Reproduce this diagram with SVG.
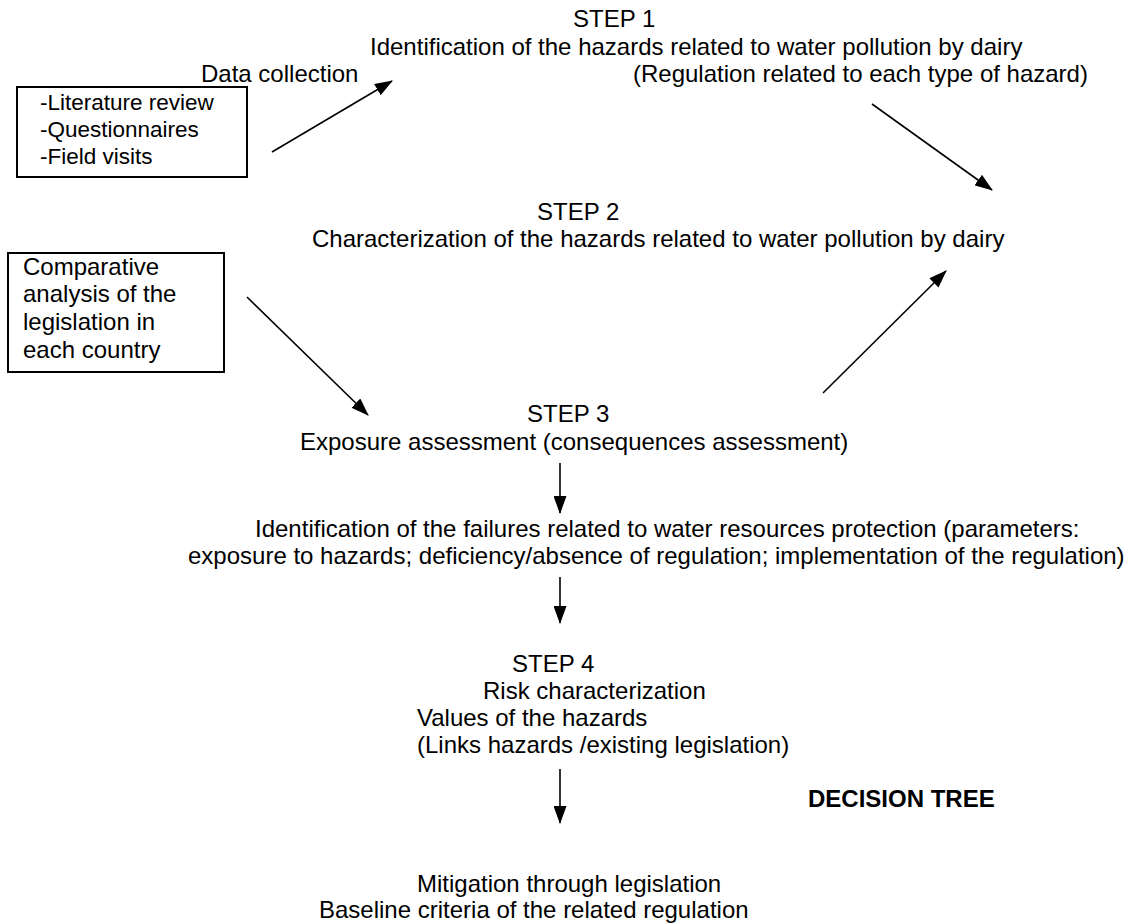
<svg xmlns="http://www.w3.org/2000/svg" width="1128" height="924" viewBox="0 0 1128 924">
<style>
text{font-family:"Liberation Sans",Arial,sans-serif;font-size:24px;fill:#000}
.b{font-weight:bold}
.s{font-size:22.5px}
.box{fill:#fff;stroke:#000;stroke-width:2}
.c{stroke:#000;stroke-width:1.6;fill:none;marker-end:url(#ah)}
</style>
<defs>
<marker id="ah" viewBox="0 0 18 13" refX="17" refY="6.5" markerWidth="18" markerHeight="13" markerUnits="userSpaceOnUse" orient="auto">
<path d="M0,0 L18,6.5 L0,13 z" fill="#000"/>
</marker>
</defs>
<rect width="1128" height="924" fill="#fff"/>
<g id="step1">
<text x="573" y="27">STEP 1</text>
<text x="370" y="55">Identification of the hazards related to water pollution by dairy</text>
<text x="633" y="82">(Regulation related to each type of hazard)</text>
</g>
<g id="datacollection">
<text x="201" y="82">Data collection</text>
</g>
<g id="box1">
<rect class="box" x="17" y="87" width="230" height="90"/>
<text class="s" x="40" y="110">-Literature review</text>
<text class="s" x="40" y="137">-Questionnaires</text>
<text class="s" x="40" y="164">-Field visits</text>
</g>
<g id="step2">
<text x="537" y="220">STEP 2</text>
<text x="312" y="247">Characterization of the hazards related to water pollution by dairy</text>
</g>
<g id="box2">
<rect class="box" x="8" y="253" width="216" height="119"/>
<text x="23" y="275">Comparative</text>
<text x="23" y="302">analysis of the</text>
<text x="23" y="330">legislation in</text>
<text x="23" y="358">each country</text>
</g>
<g id="step3">
<text x="527" y="422">STEP 3</text>
<text x="300" y="450">Exposure assessment (consequences assessment)</text>
</g>
<g id="failures">
<text x="255" y="537">Identification of the failures related to water resources protection (parameters:</text>
<text x="188" y="564">exposure to hazards; deficiency/absence of regulation; implementation of the regulation)</text>
</g>
<g id="step4">
<text x="512" y="672">STEP 4</text>
<text x="483" y="699">Risk characterization</text>
<text x="417" y="726">Values of the hazards</text>
<text x="417" y="753">(Links hazards /existing legislation)</text>
</g>
<g id="decisiontree">
<text class="b" x="808" y="807">DECISION TREE</text>
</g>
<g id="mitigation">
<text x="417" y="892">Mitigation through legislation</text>
<text x="319" y="918">Baseline criteria of the related regulation</text>
</g>
<g id="connectors">
<line class="c" x1="272" y1="152" x2="392" y2="81"/>
<line class="c" x1="872" y1="104" x2="992" y2="190"/>
<line class="c" x1="247" y1="297" x2="368" y2="415"/>
<line class="c" x1="823" y1="393" x2="946" y2="271"/>
<line class="c" x1="560" y1="463" x2="560" y2="513"/>
<line class="c" x1="560" y1="577" x2="560" y2="623"/>
<line class="c" x1="560" y1="769" x2="560" y2="823"/>
</g>
</svg>
